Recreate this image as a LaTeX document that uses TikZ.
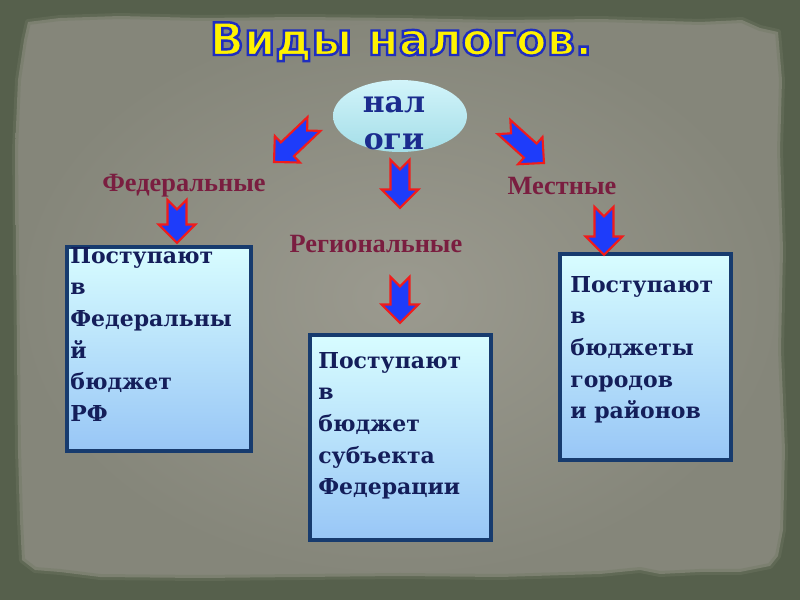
\documentclass[tikz,border=0pt]{standalone}
\usepackage{fontspec}
\setmainfont{DejaVu Serif}
\newfontfamily\titlefont{DejaVu Sans}
\newfontfamily\labelfont{Liberation Serif}
\usetikzlibrary{shapes.geometric}

\definecolor{framegreen}{HTML}{56604C}
\definecolor{paperin}{HTML}{9B9A8F}
\definecolor{paperout}{HTML}{85867A}
\definecolor{paperedge}{HTML}{6F7763}
\definecolor{arrblue}{HTML}{1E3CFA}
\definecolor{arrred}{HTML}{F01C1C}
\definecolor{boxline}{HTML}{173B6E}
\definecolor{boxtop}{HTML}{D8FDFF}
\definecolor{boxbot}{HTML}{98C6F6}
\definecolor{boxink}{HTML}{141E5A}
\definecolor{kindred}{HTML}{7A1E40}
\definecolor{ovaltop}{HTML}{D2F4FA}
\definecolor{ovalbot}{HTML}{A4DEE8}
\definecolor{ovalink}{HTML}{1B2C8E}

% yellow letters with a blue rim
\newcommand{\rimtext}[1]{\special{pdf:literal direct 2 Tr 1.4 w 0.12 0.18 0.75 RG}#1\special{pdf:literal direct 0 Tr}}

\tikzset{
  taxbox/.style={rectangle, draw=boxline, line width=0.8mm, top color=boxtop, bottom color=boxbot, inner sep=0pt},
  boxtext/.style={anchor=north west, inner sep=0pt, align=left, text=boxink, font=\fontsize{12.5}{18}\selectfont\bfseries},
  kind/.style={anchor=base, inner sep=0pt, text=kindred, font=\labelfont\fontsize{15}{18}\selectfont\bfseries},
  titletext/.style={anchor=base, inner sep=0pt, font=\titlefont\fontsize{25.5}{30}\selectfont\bfseries},
  arrowbox/.style={fill=arrblue, draw=arrred, line width=1.2pt, line join=miter},
}

% block arrow with notched tail, from #1 to #2
\newcommand{\taxarrow}[2]{%
  \pgfpointdiff{\pgfpointanchor{#1}{center}}{\pgfpointanchor{#2}{center}}%
  \pgfgetlastxy{\arrdx}{\arrdy}%
  \pgfmathsetmacro{\arrang}{atan2(\arrdy,\arrdx)}%
  \pgfmathsetmacro{\arrlen}{veclen(\arrdx,\arrdy)}%
  \draw[arrowbox, shift={(#1)}, rotate=\arrang]
    (0pt,5.4pt) -- ({(\arrlen-10.5)*1pt},5.4pt) -- ({(\arrlen-10.5)*1pt},10.4pt)
    -- ({\arrlen*1pt},0pt) -- ({(\arrlen-10.5)*1pt},-10.4pt)
    -- ({(\arrlen-10.5)*1pt},-5.4pt) -- (0pt,-5.4pt) -- (5.4pt,0pt) -- cycle;
}

\begin{document}
\begin{tikzpicture}[x=0.2mm, y=-0.2mm]
\useasboundingbox (0,0) rectangle (800,600);
% background and torn paper
\fill[framegreen] (0,0) rectangle (800,600);
\shade[inner color=paperin, outer color=paperout]
  (28,22) -- (60,18) -- (120,16) -- (200,18) -- (300,17) -- (400,18) -- (500,20)
  -- (600,19) -- (700,22) -- (742,20) -- (760,28) -- (778,32) -- (782,80)
  -- (780,150) -- (783,250) -- (781,350) -- (785,450) -- (783,530) -- (778,556)
  -- (770,566) -- (740,572) -- (700,572) -- (660,574) -- (640,570) -- (600,574)
  -- (500,577) -- (400,576) -- (300,577) -- (200,578) -- (100,577) -- (60,572)
  -- (35,570) -- (22,560) -- (20,520) -- (18,450) -- (17,350) -- (16,250)
  -- (15,150) -- (18,80) -- (24,40) -- cycle;
\draw[paperedge, line width=1.2mm, opacity=0.4, line join=round]
  (28,22) -- (60,18) -- (120,16) -- (200,18) -- (300,17) -- (400,18) -- (500,20)
  -- (600,19) -- (700,22) -- (742,20) -- (760,28) -- (778,32) -- (782,80)
  -- (780,150) -- (783,250) -- (781,350) -- (785,450) -- (783,530) -- (778,556)
  -- (770,566) -- (740,572) -- (700,572) -- (660,574) -- (640,570) -- (600,574)
  -- (500,577) -- (400,576) -- (300,577) -- (200,578) -- (100,577) -- (60,572)
  -- (35,570) -- (22,560) -- (20,520) -- (18,450) -- (17,350) -- (16,250)
  -- (15,150) -- (18,80) -- (24,40) -- cycle;

% title
\node[titletext, text=yellow] (title) at (401,55) {\rimtext{Виды налогов.}};

% centre oval
\node[ellipse, minimum width=26.8mm, minimum height=14.4mm, top color=ovaltop, bottom color=ovalbot, inner sep=0pt] (taxes) at (400,116) {};
\node[anchor=north, inner sep=0pt, align=center, text=ovalink, font=\fontsize{17}{21}\selectfont\bfseries] (taxword) at (394,96) {нал\\оги};

% kinds of taxes
\node[kind] (fed) at (184,192) {Федеральные};
\node[kind] (reg) at (376,253) {Региональные};
\node[kind] (loc) at (562,195) {Местные};

% budgets
\node[taxbox, minimum width=36.8mm, minimum height=40.8mm] (fedbox) at (159,349) {};
\node[taxbox, minimum width=36.2mm, minimum height=41mm] (regbox) at (400.5,437.5) {};
\node[taxbox, minimum width=34.2mm, minimum height=41.2mm] (locbox) at (645.5,357) {};
\node[boxtext] (fedtext) at (70,247) {Поступают\\в\\Федеральны\\й\\бюджет\\РФ};
\node[boxtext] (regtext) at (318,352) {Поступают\\в\\бюджет\\субъекта\\Федерации};
\node[boxtext] (loctext) at (570,276) {Поступают\\в\\бюджеты\\городов\\и районов};

% arrows
\coordinate (fedfrom) at (314,124);  \coordinate (fedto) at (274,162);
\coordinate (fedbfrom) at (177,200); \coordinate (fedbto) at (177,243);
\coordinate (regfrom) at (400,160);  \coordinate (regto) at (400,208);
\coordinate (regbfrom) at (400,277); \coordinate (regbto) at (400,323);
\coordinate (locfrom) at (504,127);  \coordinate (locto) at (544,163);
\coordinate (locbfrom) at (604,207); \coordinate (locbto) at (604,255);
\taxarrow{fedfrom}{fedto}
\taxarrow{fedbfrom}{fedbto}
\taxarrow{regfrom}{regto}
\taxarrow{regbfrom}{regbto}
\taxarrow{locfrom}{locto}
\taxarrow{locbfrom}{locbto}
\end{tikzpicture}
\end{document}
